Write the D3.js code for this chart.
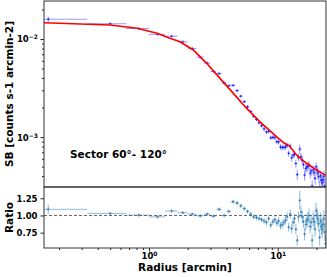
<!DOCTYPE html>
<html>
<head>
<meta charset="utf-8">
<script src="https://cdn.jsdelivr.net/npm/d3@7"></script>
<style>
  body { margin: 0; background: #fff; }
  svg { display: block; }
  text { font-family: "DejaVu Sans", sans-serif; font-weight: bold; fill: #000; }
</style>
</head>
<body>
<div id="chart"></div>
<script>
// surface brightness profile + ratio to model

// bin centres [arcmin], 20 arcsec bins
const radius = [0.165, 0.5, 0.833, 1.167, 1.5, 1.833, 2.167, 2.5, 2.833, 3.167,
  3.5, 3.833, 4.167, 4.5, 4.833, 5.167, 5.5, 5.833, 6.167, 6.5,
  6.833, 7.167, 7.5, 7.833, 8.167, 8.5, 8.833, 9.167, 9.5, 9.833,
  10.167, 10.5, 10.833, 11.167, 11.5, 11.833, 12.167, 12.5, 12.833, 13.167,
  13.5, 13.833, 14.167, 14.5, 14.833, 15.167, 15.5, 15.833, 16.167, 16.5,
  16.833, 17.167, 17.5, 17.833, 18.167, 18.5, 18.833, 19.167, 19.5, 19.833,
  20.167, 20.5, 20.833, 21.167, 21.5, 21.833, 22.167, 22.5, 22.833, 23.167, 23.5]
const binHalf = 0.1667

// SB [counts s-1 arcmin-2]
const sb = [0.01591, 0.01431, 0.01279, 0.01115, 0.01067, 0.009357, 0.008010, 0.006535, 0.005683, 0.004679,
  0.004443, 0.003565, 0.003337, 0.003367, 0.002979, 0.002614, 0.002300, 0.002037, 0.001823, 0.001632,
  0.001512, 0.001397, 0.001303, 0.001211, 0.001128, 0.001142, 0.000983, 0.000995, 0.000985, 0.000897,
  0.000893, 0.000794, 0.000784, 0.000786, 0.000794, 0.000821, 0.000683, 0.000806, 0.000616, 0.000654,
  0.000667, 0.000538, 0.000415, 0.000620, 0.000754, 0.000632, 0.000576, 0.000523, 0.000410, 0.000478,
  0.000495, 0.000503, 0.000521, 0.000429, 0.000452, 0.000317, 0.000463, 0.000436, 0.000378, 0.000499,
  0.000458, 0.000430, 0.000394, 0.000301, 0.000403, 0.000364, 0.000343, 0.000368, 0.000398, 0.000316, 0.000242]

// data / model
const ratio = [1.09, 1.03, 1.005, 0.98, 1.065, 1.04, 1.02, 0.995, 1.02, 0.99,
  1.09, 1.00, 1.06, 1.20, 1.18, 1.14, 1.10, 1.06, 1.02, 0.98,
  0.97, 0.955, 0.94, 0.92, 0.90, 0.955, 0.86, 0.91, 0.94, 0.89,
  0.92, 0.85, 0.87, 0.90, 0.93, 0.98, 0.83, 1.02, 0.81, 0.90,
  0.955, 0.80, 0.64, 0.98, 1.22, 1.05, 0.98, 0.91, 0.73, 0.87,
  0.92, 0.95, 1.00, 0.84, 0.90, 0.64, 0.95, 0.91, 0.80, 1.07,
  1.00, 0.95, 0.88, 0.68, 0.92, 0.84, 0.80, 0.87, 0.95, 0.76, 0.59]

const ratioErr = [0.07, 0.02, 0.02, 0.02, 0.02, 0.02, 0.02, 0.02, 0.02, 0.022,
  0.025, 0.025, 0.025, 0.028, 0.028, 0.03, 0.03, 0.03, 0.032, 0.034,
  0.035, 0.036, 0.038, 0.04, 0.042, 0.044, 0.046, 0.048, 0.05, 0.052,
  0.055, 0.057, 0.06, 0.06, 0.062, 0.065, 0.065, 0.068, 0.07, 0.07,
  0.072, 0.075, 0.08, 0.08, 0.14, 0.085, 0.09, 0.09, 0.09, 0.095,
  0.1, 0.1, 0.1, 0.1, 0.105, 0.1, 0.11, 0.11, 0.11, 0.115,
  0.115, 0.12, 0.12, 0.12, 0.12, 0.125, 0.125, 0.13, 0.13, 0.13, 0.13]

// best fit model (red line)
const modelR = [0.153, 0.498, 0.807, 1.154, 1.456, 1.741, 2.208, 2.806, 3.56, 4.52,
  5.74, 7.28, 9.82, 11.19, 12.24, 14.05, 16.8, 20.1, 23.6]
const modelSB = [0.01466, 0.0139, 0.01286, 0.01143, 0.01016, 0.00938, 0.00773, 0.00565, 0.00397, 0.00279,
  0.00196, 0.00143, 0.001007, 0.000869, 0.000819, 0.000655, 0.000538, 0.00046, 0.000409]

const sbTicks = [1e-3, 1e-2]
const sbTickExp = ["\u22123", "\u22122"]
const ratioTicks = [0.75, 1.00, 1.25]
const rTicks = [1, 10]
const rTickExp = ["0", "1"]

const W = 327, H = 277
const left = 44, right = 326
const top1 = 1, mid = 187, bot = 248

var x = d3.scaleLog().domain([0.153, 23.7]).range([left, right])
var y = d3.scaleLog().domain([3.1e-4, 0.0244]).range([mid, top1])
var yr = d3.scaleLinear().domain([0.527, 1.414]).range([bot, mid])

var svg = d3.select("#chart").append("svg")
  .attr("width", W).attr("height", H)

var defs = svg.append("defs")
defs.append("clipPath").attr("id", "clipTop")
  .append("rect").attr("x", left).attr("y", top1).attr("width", right - left).attr("height", mid - top1)
defs.append("clipPath").attr("id", "clipBot")
  .append("rect").attr("x", left).attr("y", mid).attr("width", right - left).attr("height", bot - mid)

var data = radius.map(function(r, i) {
  return {r: r, sb: sb[i], ratio: ratio[i], err: ratioErr[i]}
})

// ---- top panel
var gTop = svg.append("g").attr("clip-path", "url(#clipTop)")

var blue = "#0000ff"
gTop.selectAll(".xe").data(data).enter().append("line")
  .attr("x1", d => x(Math.max(d.r - binHalf, 0.15)))
  .attr("x2", d => x(d.r + binHalf))
  .attr("y1", d => y(d.sb)).attr("y2", d => y(d.sb))
  .attr("stroke", blue).attr("stroke-opacity", 0.4).attr("stroke-width", 1)
gTop.selectAll(".ye").data(data).enter().append("line")
  .attr("x1", d => x(d.r)).attr("x2", d => x(d.r))
  .attr("y1", d => y(d.sb * (1 - d.err / d.ratio)))
  .attr("y2", d => y(d.sb * (1 + d.err / d.ratio)))
  .attr("stroke", blue).attr("stroke-opacity", 0.4).attr("stroke-width", 1)
gTop.selectAll(".mk").data(data).enter().append("path")
  .attr("d", d => "M" + (x(d.r) - 1.5) + "," + y(d.sb) + "h3M" + x(d.r) + "," + (y(d.sb) - 1.5) + "v3")
  .attr("stroke", blue).attr("stroke-opacity", 0.55).attr("stroke-width", 1)

gTop.append("path")
  .datum(modelR.map((r, i) => ({r: r, v: modelSB[i]})))
  .attr("fill", "none")
  .attr("stroke", "#ff0000")
  .attr("stroke-width", 1.6)
  .attr("d", d3.line().x(d => x(d.r)).y(d => y(d.v)))

// y axis top
var minorSB = []
;[1e-4, 1e-3, 1e-2].forEach(function(dec) {
  for (let k = 2; k <= 9; k++) {
    let v = dec * k
    if (v > 3.1e-4 && v < 0.0244) minorSB.push(v)
  }
})
svg.append("g").attr("transform", "translate(" + left + ",0)")
  .call(d3.axisLeft(y).tickValues(minorSB).tickSize(2).tickFormat(""))
  .call(g => g.select(".domain").remove())
svg.append("g").attr("transform", "translate(" + left + ",0)")
  .call(d3.axisLeft(y).tickValues(sbTicks).tickSize(3.5).tickPadding(3).tickFormat(""))
  .call(g => g.select(".domain").remove())
  .call(g => g.selectAll(".tick").each(function(d, i) {
    var t = d3.select(this).append("text")
      .attr("x", -6).attr("dy", "0.35em").attr("text-anchor", "end")
      .style("font-size", "8.5px")
    t.append("tspan").text("10")
    t.append("tspan").attr("dy", "-0.5em").style("font-size", "6px").text(sbTickExp[i])
  }))

svg.append("text")
  .attr("transform", "translate(13," + ((top1 + mid) / 2) + ") rotate(-90)")
  .attr("text-anchor", "middle")
  .style("font-size", "10.5px")
  .text("SB [counts s-1 arcmin-2]")

svg.append("text")
  .attr("x", 70).attr("y", 158)
  .style("font-size", "10.5px")
  .text("Sector 60\u00b0- 120\u00b0")

// ---- bottom panel
var gBot = svg.append("g").attr("clip-path", "url(#clipBot)")

gBot.append("line")
  .attr("x1", left).attr("x2", right)
  .attr("y1", yr(1)).attr("y2", yr(1))
  .attr("stroke", "#555").attr("stroke-width", 0.9).attr("stroke-dasharray", "3,2")

var c0 = "#1f77b4"
gBot.selectAll(".xe").data(data).enter().append("line")
  .attr("x1", d => x(Math.max(d.r - binHalf, 0.15)))
  .attr("x2", d => x(d.r + binHalf))
  .attr("y1", d => yr(d.ratio)).attr("y2", d => yr(d.ratio))
  .attr("stroke", c0).attr("stroke-opacity", 0.5).attr("stroke-width", 1)
gBot.selectAll(".ye").data(data).enter().append("line")
  .attr("x1", d => x(d.r)).attr("x2", d => x(d.r))
  .attr("y1", d => yr(d.ratio - d.err))
  .attr("y2", d => yr(d.ratio + d.err))
  .attr("stroke", c0).attr("stroke-opacity", 0.5).attr("stroke-width", 1)
gBot.selectAll(".mk").data(data).enter().append("path")
  .attr("d", d => "M" + (x(d.r) - 1.5) + "," + yr(d.ratio) + "h3M" + x(d.r) + "," + (yr(d.ratio) - 1.5) + "v3")
  .attr("stroke", c0).attr("stroke-opacity", 0.6).attr("stroke-width", 1)

svg.append("g").attr("transform", "translate(" + left + ",0)")
  .call(d3.axisLeft(yr).tickValues(ratioTicks).tickSize(3.5).tickPadding(3).tickFormat(d3.format(".2f")))
  .call(g => g.select(".domain").remove())
  .call(g => g.selectAll("text").style("font-size", "8.5px"))

svg.append("text")
  .attr("transform", "translate(13," + ((mid + bot) / 2) + ") rotate(-90)")
  .attr("text-anchor", "middle")
  .style("font-size", "10.5px")
  .text("Ratio")

// x axis
var minorR = []
;[0.1, 1, 10].forEach(function(dec) {
  for (let k = 2; k <= 9; k++) {
    let v = dec * k
    if (v > 0.153 && v < 23.7) minorR.push(v)
  }
})
svg.append("g").attr("transform", "translate(0," + bot + ")")
  .call(d3.axisBottom(x).tickValues(minorR).tickSize(2).tickFormat(""))
  .call(g => g.select(".domain").remove())
svg.append("g").attr("transform", "translate(0," + bot + ")")
  .call(d3.axisBottom(x).tickValues(rTicks).tickSize(3.5).tickFormat(""))
  .call(g => g.select(".domain").remove())
  .call(g => g.selectAll(".tick").each(function(d, i) {
    var t = d3.select(this).append("text")
      .attr("y", 11).attr("text-anchor", "middle")
      .style("font-size", "8.5px")
    t.append("tspan").text("10")
    t.append("tspan").attr("dy", "-0.5em").style("font-size", "6px").text(rTickExp[i])
  }))

svg.append("text")
  .attr("x", (left + right) / 2).attr("y", 271)
  .attr("text-anchor", "middle")
  .style("font-size", "10.5px")
  .text("Radius [arcmin]")

// frames
svg.selectAll(".tick line").attr("stroke", "#222")
svg.append("rect")
  .attr("x", left).attr("y", top1).attr("width", right - left).attr("height", mid - top1)
  .attr("fill", "none").attr("stroke", "#333").attr("stroke-width", 1)
svg.append("rect")
  .attr("x", left).attr("y", mid).attr("width", right - left).attr("height", bot - mid)
  .attr("fill", "none").attr("stroke", "#333").attr("stroke-width", 1)
</script>
</body>
</html>
